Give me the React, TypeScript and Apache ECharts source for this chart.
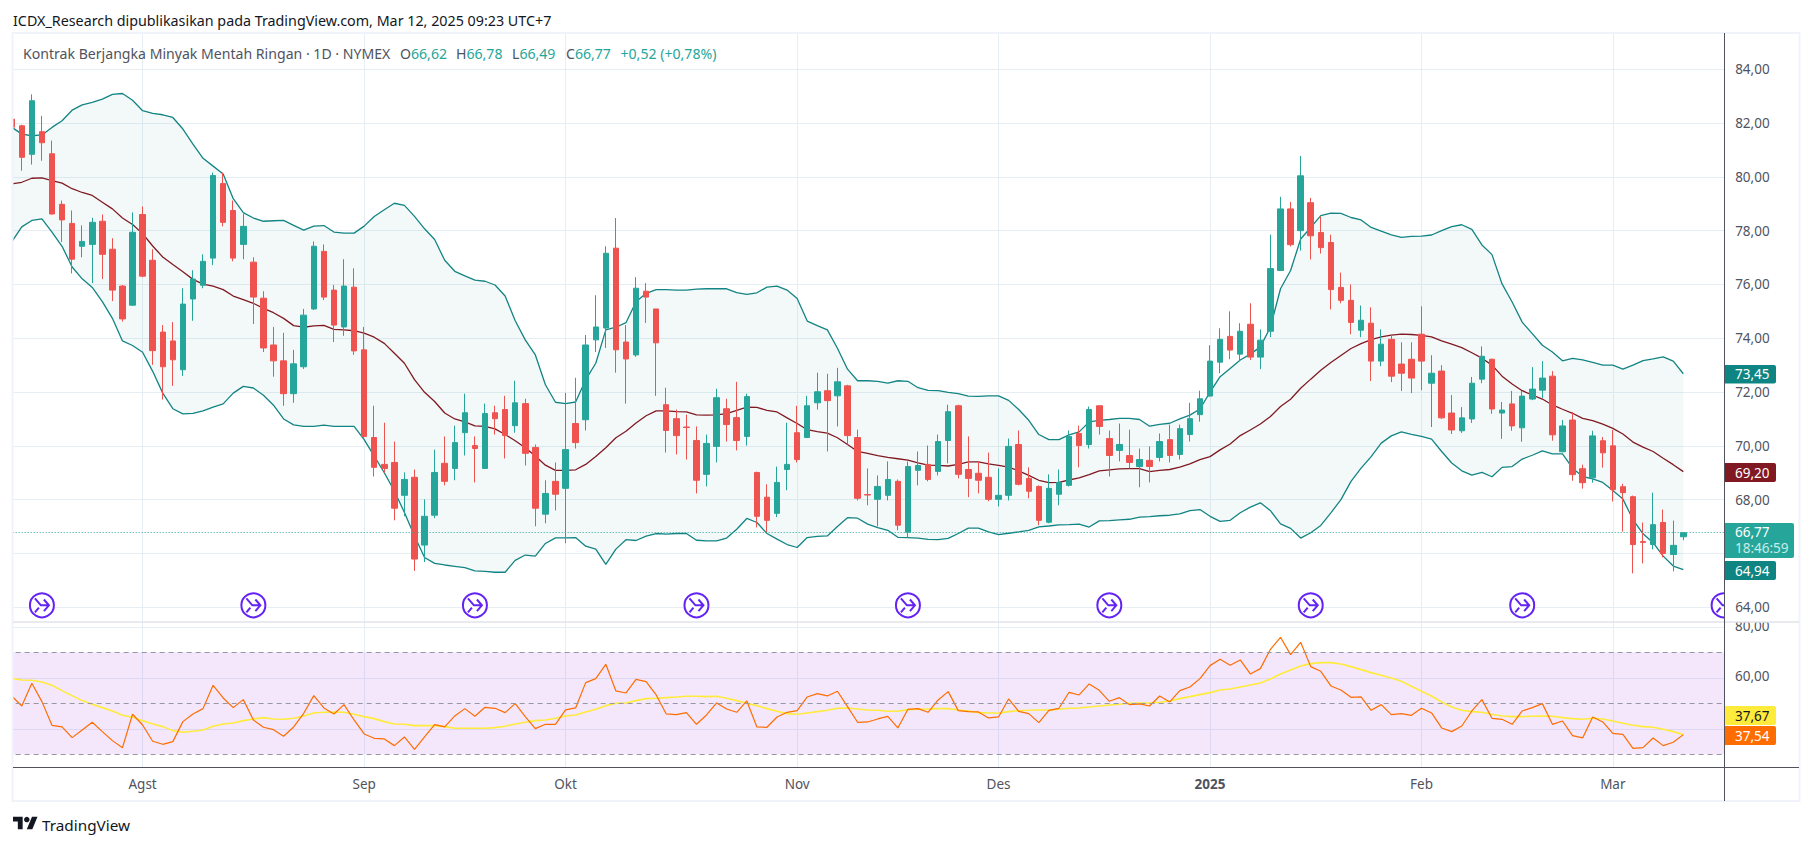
import React, { useEffect, useRef } from "react";
import * as echarts from "echarts";

// Bars, from the clipped first bar to the last one.
const opens = [82.15,81.90,80.84,81.68,80.86,78.98,78.27,77.42,77.49,78.35,77.31,75.94,75.23,78.6,76.9,74.23,73.9,72.83,75.46,75.97,76.98,79.75,78.75,77.49,76.83,75.49,73.75,73.16,71.94,72.94,75.09,77.23,75.79,74.42,75.9,73.57,70.31,69.31,69.38,68.16,68.83,66.31,67.42,69.35,69.16,70.49,70.01,69.16,71.23,71.35,70.75,71.57,69.94,67.46,68.68,68.42,70.83,70.97,73.94,74.38,77.35,73.86,73.38,75.75,75.09,71.53,71.01,70.7,70.2,68.94,69.98,71.38,71.05,70.35,69.01,68.09,67.49,69.12,70.49,70.31,71.6,72.05,71.86,72.23,70.31,68.19,68.01,68.16,68.68,66.79,69.09,69.31,69.05,70.2,71.49,69.12,68.98,68.83,68.01,68.16,70.05,68.79,68.49,67.16,68.2,68.53,70.46,70.05,71.49,70.27,69.83,69.64,69.23,69.46,69.57,70.23,69.68,70.42,71.16,71.85,73.11,74.07,73.41,74.52,73.3,74.26,76.52,78.81,78.0,79.04,77.93,77.56,75.89,75.41,74.3,74.56,73.15,73.96,73.04,73.22,74.15,72.33,72.78,71.22,70.56,71.0,72.48,73.22,71.22,71.56,70.67,71.74,72.07,72.59,69.78,70.96,69.15,68.81,70.19,70.0,68.48,68.11,66.44,66.33,67.15,65.96,66.62];
const closes = [81.85,80.73,82.83,81.27,78.62,78.40,76.94,77.60,78.31,77.12,75.79,74.72,77.94,76.31,73.54,72.94,73.2,75.27,76.2,76.86,80.05,78.31,76.98,78.16,75.53,73.64,73.16,71.94,73.05,74.86,77.42,75.53,74.49,75.94,73.53,70.35,69.2,69.16,67.68,68.75,65.79,67.38,69.01,68.68,70.12,71.23,69.9,71.2,71.01,70.38,71.6,69.72,67.68,68.23,68.2,69.86,70.12,73.75,74.42,77.16,73.57,73.23,75.86,75.53,73.83,70.57,70.38,70.68,68.72,70.09,71.79,70.79,70.2,71.83,67.38,67.23,68.64,69.31,69.49,71.49,72.01,71.68,72.38,70.38,68.05,68.17,68.49,68.75,67.05,69.23,69.27,68.75,70.16,71.27,68.94,68.79,68.72,68.01,68.16,69.98,68.57,68.31,67.23,68.42,68.64,70.35,70.01,71.35,70.72,69.64,70.05,69.38,69.49,69.23,70.16,69.64,70.64,71.01,71.75,73.15,73.96,73.56,74.26,73.3,73.93,76.59,78.81,77.48,80.04,77.81,77.37,75.81,75.41,74.59,74.67,73.15,73.78,72.59,72.7,72.52,73.15,72.7,71.04,70.59,71.04,72.33,73.33,71.37,71.33,70.74,71.85,72.11,72.52,70.41,70.74,68.93,68.63,70.37,69.74,68.37,68.26,66.33,66.41,67.07,66.0,66.3,66.77];
const lows = [81.7,80.23,80.46,80.6,78.6,77.58,76.41,77.01,76.05,76.2,75.38,74.62,75.2,76.27,73.01,71.72,72.23,72.6,74.65,75.86,76.72,78.16,76.86,76.94,74.53,73.49,72.57,71.49,71.6,72.86,75.05,75.42,73.86,74.09,73.38,70.3,68.86,69.0,67.23,67.38,65.35,65.68,67.31,68.53,68.72,69.64,68.64,69.14,70.42,69.53,70.49,69.27,67.01,67.12,67.6,66.38,69.9,70.57,73.49,73.64,72.72,71.57,73.31,74.57,71.86,69.75,69.68,69.49,68.23,68.49,69.38,70.16,69.83,70.01,66.97,66.79,67.35,68.35,69.38,70.29,71.35,69.79,70.72,70.05,67.97,67.79,67.01,67.97,66.86,66.59,68.53,68.68,68.9,69.35,68.79,68.09,68.23,67.94,67.75,67.97,68.53,68.05,67.05,67.12,67.79,68.49,69.2,69.9,70.42,68.86,69.42,69.16,68.46,68.64,69.42,69.38,69.49,70.16,70.9,71.83,72.70,73.22,73.15,73.19,72.85,74.04,76.5,77.41,77.26,76.93,77.15,75.07,75.3,74.15,74.04,72.41,72.96,72.37,72.04,71.96,72.07,70.7,71.0,70.44,70.48,70.85,72.33,71.19,70.26,70.56,70.15,71.7,71.78,70.19,69.76,68.7,68.41,68.63,69.19,67.93,66.81,65.26,65.63,66.15,65.85,65.33,66.49];
const highs = [82.3,81.94,83.07,82.27,81.35,79.12,78.75,78.2,78.48,78.6,77.72,75.98,78.68,78.9,77.31,74.49,74.6,75.86,76.53,77.12,80.16,80.16,79.12,78.63,77.01,75.75,74.42,74.2,73.57,75.09,77.6,77.49,75.98,76.94,76.6,74.42,71.49,70.86,70.16,69.01,69.12,68.01,69.86,70.35,70.75,71.94,70.35,71.57,71.49,71.86,72.42,71.75,70.05,68.72,69.38,71.97,72.53,74.12,75.6,77.42,78.47,74.49,76.27,76.05,75.09,72.16,71.35,71.16,70.72,70.42,72.12,71.75,72.38,71.94,69.04,68.57,69.23,70.86,71.49,71.86,72.72,72.68,72.9,72.27,70.6,69.16,68.9,69.42,68.75,69.42,69.79,70.01,70.42,71.53,71.53,70.35,69.42,69.75,69.16,70.27,70.57,69.2,68.53,68.94,69.12,70.57,70.75,71.46,71.49,70.57,70.83,70.6,69.9,69.98,70.46,70.79,70.79,71.6,72.05,73.74,74.37,75.0,74.56,75.3,74.33,77.85,79.26,79.07,80.78,79.22,78.52,77.85,76.44,76.0,75.22,75.15,74.33,74.11,73.85,73.85,75.19,73.37,73.0,71.89,71.44,72.56,73.7,73.24,71.63,72.04,72.04,72.93,73.15,72.78,70.96,71.26,69.3,70.56,70.33,70.59,68.59,68.15,67.15,68.26,67.63,67.22,66.78];

// Bollinger bands
const bbUpper = [81.85,81.59,81.53,81.56,81.84,82.09,82.48,82.68,82.77,82.89,83.07,83.10,82.85,82.46,82.36,82.31,82.21,81.78,81.22,80.69,80.40,80.11,79.19,78.67,78.47,78.35,78.37,78.38,78.20,78.02,78.17,78.19,77.95,77.91,77.91,78.17,78.53,78.78,79.02,78.94,78.53,78.07,77.67,76.90,76.49,76.32,76.16,76.12,75.98,75.57,74.65,73.94,73.38,72.27,71.62,71.57,71.63,72.46,73.07,74.31,74.41,74.58,75.36,75.67,75.81,75.81,75.79,75.79,75.83,75.84,75.84,75.84,75.70,75.63,75.69,75.90,75.94,75.79,75.48,74.64,74.47,74.31,73.63,72.85,72.42,72.42,72.40,72.33,72.42,72.40,72.16,72.06,72.05,71.99,71.94,71.85,71.84,71.86,71.86,71.69,71.35,70.95,70.42,70.23,70.23,70.41,70.52,70.89,70.95,70.98,71.02,71.02,70.98,70.73,70.80,70.84,71.0,71.14,71.37,72.0,72.57,72.88,73.19,73.41,73.68,74.42,75.84,76.52,77.69,78.12,78.56,78.65,78.64,78.49,78.40,78.12,77.98,77.84,77.75,77.79,77.80,77.84,78.0,78.15,78.22,78.05,77.47,77.11,76.02,75.35,74.60,74.17,73.74,73.49,73.16,73.25,73.20,73.10,73.0,73.0,72.85,73.0,73.17,73.23,73.31,73.15,72.68];
const bbBasis = [79.74,79.80,79.95,79.96,79.86,79.77,79.56,79.42,79.31,79.06,78.81,78.47,78.23,77.89,77.43,77.02,76.74,76.47,76.19,76.01,75.94,75.81,75.57,75.44,75.30,75.11,74.95,74.74,74.47,74.41,74.46,74.48,74.33,74.31,74.28,74.19,74.04,73.81,73.44,73.07,72.46,71.99,71.65,71.22,71.0,70.89,70.74,70.72,70.63,70.42,70.19,69.93,69.62,69.28,69.09,69.09,69.11,69.31,69.60,69.93,70.30,70.54,70.85,71.12,71.30,71.30,71.27,71.26,71.15,71.14,71.15,71.20,71.32,71.44,71.43,71.32,71.26,71.04,70.83,70.60,70.53,70.47,70.30,70.05,69.79,69.72,69.64,69.57,69.52,69.47,69.37,69.28,69.27,69.25,69.31,69.40,69.40,69.33,69.27,69.21,69.07,68.90,68.72,68.63,68.64,68.73,68.81,68.93,69.07,69.11,69.14,69.15,69.15,69.04,69.09,69.12,69.21,69.33,69.49,69.60,69.85,70.07,70.38,70.59,70.81,71.09,71.46,71.73,72.14,72.48,72.81,73.10,73.36,73.62,73.80,73.95,74.05,74.12,74.15,74.14,74.11,74.05,73.90,73.78,73.65,73.46,73.26,73.0,72.59,72.30,72.05,71.89,71.74,71.52,71.36,71.21,71.02,70.94,70.81,70.65,70.44,70.14,69.95,69.79,69.54,69.30,69.04];
const bbLower = [77.58,78.14,78.38,78.44,77.95,77.42,76.65,76.21,75.89,75.36,74.74,73.90,73.73,73.48,72.77,71.96,71.38,71.19,71.21,71.30,71.44,71.56,71.96,72.21,72.15,71.88,71.51,71.0,70.78,70.72,70.72,70.77,70.72,70.72,70.72,70.23,69.62,69.0,68.32,67.52,66.65,65.85,65.63,65.57,65.52,65.47,65.35,65.33,65.30,65.30,65.74,65.94,65.90,66.37,66.58,66.58,66.59,66.27,66.16,65.59,66.16,66.51,66.48,66.64,66.74,66.72,66.74,66.74,66.49,66.47,66.47,66.57,66.90,67.30,67.15,66.74,66.53,66.33,66.22,66.59,66.63,66.65,67.0,67.33,67.31,67.09,66.96,66.86,66.60,66.59,66.57,66.52,66.51,66.56,66.74,66.94,66.94,66.80,66.70,66.75,66.80,66.86,66.99,67.02,67.06,67.07,67.09,66.98,67.21,67.22,67.25,67.27,67.35,67.37,67.40,67.42,67.47,67.59,67.63,67.38,67.19,67.23,67.51,67.72,67.88,67.59,67.10,66.93,66.57,66.77,67.04,67.51,68.0,68.68,69.17,69.60,70.10,70.37,70.52,70.43,70.35,70.25,69.79,69.36,69.07,68.91,69.01,68.85,69.20,69.23,69.51,69.65,69.81,69.70,69.70,69.17,68.86,68.77,68.64,68.34,68.02,67.26,66.73,66.40,65.90,65.53,65.40];

// RSI and its moving average
const rsiValues = [52.88,48.95,57.84,50.65,41.37,40.72,36.54,39.54,42.55,38.89,35.36,32.61,45.69,41.50,35.10,33.92,34.97,42.81,45.82,47.91,57.06,52.09,48.30,51.44,43.46,40.59,39.67,37.06,40.72,46.08,53.01,48.17,45.82,49.48,43.46,37.97,36.27,36.01,33.40,36.80,31.96,36.80,41.63,40.72,45.03,47.91,44.90,48.43,48.04,46.34,49.87,44.77,40.07,41.76,41.76,47.39,48.17,58.10,59.67,65.29,54.84,54.05,59.41,58.50,53.27,45.82,45.56,46.34,41.76,45.42,50.13,47.78,46.47,50.92,40.72,40.59,44.64,46.47,47.12,52.48,53.79,52.88,54.71,48.69,42.55,42.68,43.86,44.90,40.33,47.65,47.91,46.47,51.31,54.58,47.12,46.73,46.60,44.25,44.64,51.70,46.86,45.95,42.42,47.25,48.04,54.31,53.27,57.58,55.10,50.78,52.22,49.48,49.74,48.95,52.88,50.52,54.97,56.41,59.67,64.77,67.25,64.90,66.99,61.50,63.59,71.18,75.88,69.08,73.92,64.38,62.55,56.80,55.23,52.35,52.48,47.25,49.48,45.56,45.95,45.29,48.04,46.21,40.33,38.89,41.11,46.99,51.44,44.12,43.73,41.76,46.99,48.30,49.87,41.76,43.07,37.32,36.41,44.64,42.68,38.24,37.84,32.35,32.61,36.41,33.40,34.71,37.71];
const rsiAverage = [59.80,59.15,59.02,58.37,57.06,54.97,53.01,51.05,49.61,48.30,46.99,45.29,44.51,43.20,41.90,40.85,39.28,38.63,39.02,39.54,40.98,41.90,42.29,43.20,43.86,44.38,43.86,43.73,44.12,45.03,46.21,46.47,46.60,46.47,45.69,44.77,43.99,42.81,41.90,41.76,41.24,41.24,41.24,40.85,40.20,40.20,40.20,40.20,40.46,40.98,41.90,42.55,43.20,43.46,44.12,45.03,45.42,46.60,47.65,49.08,50.0,50.13,51.05,51.83,51.96,52.22,52.48,52.75,52.75,52.61,52.75,51.96,51.05,50.0,49.08,47.91,46.86,45.95,45.69,46.21,46.73,47.25,48.04,48.17,47.78,47.39,47.25,46.86,46.86,47.52,47.65,47.78,47.91,47.91,47.39,46.99,46.34,46.21,46.21,46.73,47.12,47.25,47.39,47.39,47.65,48.04,48.17,48.56,48.95,49.35,49.61,50.0,50.13,50.13,50.39,50.92,51.83,52.61,53.40,54.18,55.23,55.62,56.41,57.19,57.97,59.54,61.50,63.07,64.64,65.56,65.95,65.95,65.42,64.38,63.20,62.03,60.98,59.93,58.63,56.67,54.71,52.88,50.52,48.56,47.25,46.73,46.47,45.69,45.03,44.77,44.77,44.90,45.03,44.90,44.38,43.99,43.73,44.12,43.86,43.07,42.16,41.37,40.85,40.59,39.80,38.89,37.71];

// Axes: which bar each month starts on, the empty bars on the right, tick values.
const monthStarts: Record<number, string> = { 13: "Agst", 35: "Sep", 55: "Okt", 78: "Nov", 98: "Des", 119: "2025", 140: "Feb", 159: "Mar" };
const slotCount = 171;
const priceGridTicks = [64, 66, 68, 70, 72, 74, 76, 78, 80, 82, 84];
const priceLabelTicks = [64, 68, 70, 72, 74, 76, 78, 80, 82, 84];
const rsiGridTicks = [40, 60, 80];
const rsiLevels = [70, 50, 30];
const eventBars = [3, 24, 46, 68, 89, 109, 129, 150, 170];
const eventLevel = 64.07;
const lastClose = 66.77;

const categories = Array.from({ length: slotCount }, (_, i) => String(i));
const FONT = "'Noto Sans', sans-serif";
const TEAL = "#26a69a";
const RED = "#ef5350";
const BAND = "#138484";
const GRID = "#e6eef3";
const TXT = "#50535e";
const isMonth = (i: number) => monthStarts[i] !== undefined;
const commaFmt = (v: number) => v.toFixed(2).replace(".", ",");

const LOGO = "M14 22H7V11H0V4h14v18zM28 22h-8l7.5-18h8L28 22z";
echarts.graphic.registerShape("tvlogo", (echarts.graphic as any).extendPath(LOGO, {}));

function tag(y: number, h: number, w: number, bg: string, txt: string, fg: string) {
  return [
    { type: "rect", z: 200, shape: { x: 1725, y, width: w, height: h, r: [0, 2, 2, 0] }, style: { fill: bg } },
    { type: "text", z: 201, x: 1735, y: y + h / 2, style: { text: txt, fill: fg, font: `13.5px ${FONT}`, verticalAlign: "middle" } },
  ];
}

export default function App() {
  const ref = useRef<HTMLDivElement>(null);
  useEffect(() => {
    const chart = echarts.init(ref.current!, undefined, { renderer: "svg" });
    const xAxisBase = {
      type: "category",
      data: categories,
      boundaryGap: true,
      axisLine: { show: false },
      axisTick: { show: false },
      splitLine: { show: true, alignWithLabel: true, interval: (i: number) => isMonth(i), lineStyle: { color: GRID, width: 1 } },
    };
    const gridLeft = 6.665;
    const gridRight = 1814 - (6.665 + 171 * 10.07);
    const labelStyle = { formatter: commaFmt, color: TXT, fontSize: 13.5, fontFamily: FONT, margin: 6.5, padding: [0, 0, 3, 0] };
    const option: any = {
      animation: false,
      backgroundColor: "#ffffff",
      textStyle: { fontFamily: FONT },
      grid: [
        { left: gridLeft, right: gridRight, top: 33, height: 589 },
        { left: gridLeft, right: gridRight, top: 622, height: 145.3 },
      ],
      xAxis: [
        { ...xAxisBase, gridIndex: 0, axisLabel: { show: false } },
        {
          ...xAxisBase,
          gridIndex: 1,
          axisLabel: {
            show: true,
            interval: (i: number) => isMonth(i),
            formatter: (v: string) => {
              const s = monthStarts[Number(v)] ?? "";
              return s === "2025" ? `{b|${s}}` : s;
            },
            color: TXT,
            fontSize: 13.5,
            fontFamily: FONT,
            margin: 10,
            rich: { b: { fontWeight: "bold", fontSize: 13.5, color: TXT, fontFamily: FONT } },
          },
        },
      ],
      yAxis: [
        {
          type: "value", gridIndex: 0, position: "right", min: 63.45, max: 85.35, scale: true,
          axisLine: { show: false },
          axisTick: { show: false, customValues: priceGridTicks },
          splitLine: { show: true, lineStyle: { color: GRID, width: 1 } },
          axisLabel: { show: false },
        },
        {
          type: "value", gridIndex: 1, position: "right", min: 24.9, max: 81.88, scale: true,
          axisLine: { show: false },
          axisTick: { show: false, customValues: rsiGridTicks },
          splitLine: { show: true, lineStyle: { color: GRID, width: 1 } },
          axisLabel: { show: false },
        },
        {
          type: "value", gridIndex: 0, position: "right", min: 63.45, max: 85.35, scale: true, z: 150,
          axisLine: { show: false },
          axisTick: { show: false, customValues: priceLabelTicks },
          splitLine: { show: false },
          axisLabel: { ...labelStyle, customValues: priceLabelTicks },
        },
      ],
      series: [
        { type: "line", name: "bandBase", data: bbLower, stack: "band", symbol: "none", lineStyle: { width: 0, opacity: 0 }, z: 1, silent: true },
        { type: "line", name: "bandFill", data: bbUpper.map((u, i) => +(u - bbLower[i]).toFixed(2)), stack: "band", symbol: "none", lineStyle: { width: 0, opacity: 0 }, areaStyle: { color: "rgba(18,132,132,0.05)", opacity: 1 }, z: 1, silent: true },
        { type: "line", name: "Upper", data: bbUpper, symbol: "none", lineStyle: { color: BAND, width: 1.3 }, z: 2 },
        { type: "line", name: "Lower", data: bbLower, symbol: "none", lineStyle: { color: BAND, width: 1.3 }, z: 2 },
        { type: "line", name: "Basis", data: bbBasis, symbol: "none", lineStyle: { color: "#801922", width: 1.3 }, z: 2 },
        {
          type: "candlestick", name: "CL1!", z: 3, barWidth: 6,
          data: opens.map((o, i) => [o, closes[i], lows[i], highs[i]]),
          itemStyle: { color: TEAL, color0: RED, borderColor: TEAL, borderColor0: RED, borderWidth: 1 },
          markLine: {
            silent: true, symbol: "none", animation: false, label: { show: false },
            lineStyle: { color: TEAL, type: [1, 2], width: 1 },
            data: [{ yAxis: lastClose }],
          },
        },
        {
          type: "scatter", name: "eventRing", z: 4, symbol: "circle", symbolSize: 24, silent: true, clip: false,
          data: eventBars.map((b) => [String(b), eventLevel]),
          itemStyle: { color: "#ffffff", borderColor: "#6423f5", borderWidth: 2, opacity: 1 },
        },
        {
          type: "scatter", name: "eventArrow", z: 5, symbolSize: 14, silent: true, clip: false,
          symbol: "path://M1 2 L7 8 L15 8 M10 3 L15 8 L10 13 M1 14 L5 10",
          data: eventBars.map((b) => [String(b), eventLevel]),
          itemStyle: { color: "none", borderColor: "#6423f5", borderWidth: 2, opacity: 1 },
        },
        {
          type: "line", name: "RSI", xAxisIndex: 1, yAxisIndex: 1, data: rsiValues, symbol: "none", z: 3,
          lineStyle: { color: "#ff6d00", width: 1.2 },
          markArea: { silent: true, itemStyle: { color: "rgba(156,39,230,0.11)" }, data: [[{ yAxis: 30 }, { yAxis: 70 }]] },
          markLine: {
            silent: true, symbol: "none", animation: false, label: { show: false },
            lineStyle: { color: "#9598a1", type: [5, 4], width: 1 },
            data: rsiLevels.map((v) => ({ yAxis: v })),
          },
        },
        { type: "line", name: "RSI MA", xAxisIndex: 1, yAxisIndex: 1, data: rsiAverage, symbol: "none", z: 2, lineStyle: { color: "#ffeb3b", width: 1.6 } },
      ],
      graphic: [
        // masks beyond the frame on both sides
        { type: "rect", z: 100, shape: { x: 0, y: 30, width: 12.5, height: 775 }, style: { fill: "#ffffff" } },
        { type: "rect", z: 100, shape: { x: 1725, y: 30, width: 13, height: 772 }, style: { fill: "#ffffff" } },
        // RSI axis labels; the top of the pane cuts off the upper part of the highest one
        { type: "text", z: 101, x: 1735, y: 625.5, style: { text: "80,00", fill: TXT, font: `13.5px ${FONT}`, verticalAlign: "middle" } },
        { type: "text", z: 101, x: 1735, y: 676, style: { text: "60,00", fill: TXT, font: `13.5px ${FONT}`, verticalAlign: "middle" } },
        { type: "rect", z: 102, shape: { x: 1725, y: 613, width: 74, height: 9 }, style: { fill: "#ffffff" } },
        // frame
        { type: "rect", z: 110, shape: { x: 12.5, y: 33, width: 1787, height: 768 }, style: { fill: "none", stroke: "#f0f3fa", lineWidth: 2 } },
        // pane separator and axes
        { type: "line", z: 111, shape: { x1: 13, y1: 622, x2: 1799, y2: 622 }, style: { stroke: "#e0e3eb", lineWidth: 1.5 } },
        { type: "line", z: 112, shape: { x1: 13, y1: 767.5, x2: 1799, y2: 767.5 }, style: { stroke: "#50535e", lineWidth: 1 } },
        { type: "line", z: 112, shape: { x1: 1724.5, y1: 33, x2: 1724.5, y2: 801 }, style: { stroke: "#50535e", lineWidth: 1 } },
        // header
        { type: "text", z: 120, x: 13, y: 20, style: { text: "ICDX_Research dipublikasikan pada TradingView.com, Mar 12, 2025 09:23 UTC+7", fill: "#131722", font: `14.3px ${FONT}`, verticalAlign: "middle" } },
        { type: "text", z: 120, x: 23, y: 53, style: { text: "Kontrak Berjangka Minyak Mentah Ringan · 1D · NYMEX", fill: "#50535e", font: `14.1px ${FONT}`, verticalAlign: "middle" } },
        ...[["O", "66,62", 400], ["H", "66,78", 456], ["L", "66,49", 512], ["C", "66,77", 566]].map(([k, v, x]) => ({
          type: "text", z: 120, x, y: 53,
          style: { text: `{k|${k}}{v|${v}}`, verticalAlign: "middle", font: `14.1px ${FONT}`, rich: { k: { fill: "#50535e", font: `14.1px ${FONT}` }, v: { fill: TEAL, font: `14.1px ${FONT}` } } },
        })),
        { type: "text", z: 120, x: 620.5, y: 53, style: { text: "+0,52 (+0,78%)", fill: TEAL, font: `14.1px ${FONT}`, verticalAlign: "middle" } },
        // price tags on the axes
        ...tag(365, 18.5, 51, "#0e8582", "73,45", "#ffffff"),
        ...tag(463, 19, 51, "#801922", "69,20", "#ffffff"),
        { type: "rect", z: 200, shape: { x: 1725, y: 523, width: 69, height: 35, r: [0, 2, 2, 0] }, style: { fill: TEAL } },
        { type: "text", z: 201, x: 1735, y: 532, style: { text: "66,77", fill: "#ffffff", font: `13.5px ${FONT}`, verticalAlign: "middle" } },
        { type: "text", z: 201, x: 1735, y: 548, style: { text: "18:46:59", fill: "#c8ebe7", font: `13.5px ${FONT}`, verticalAlign: "middle" } },
        ...tag(561, 19, 51, "#0e8582", "64,94", "#ffffff"),
        ...tag(706, 19, 51, "#ffeb3b", "37,67", "#131722"),
        ...tag(726, 19, 51, "#ff6d00", "37,54", "#ffffff"),
        // footer
        { type: "tvlogo", z: 120, x: 13, y: 814, scaleX: 0.69, scaleY: 0.69, style: { fill: "#131722" } },
        { type: "circle", z: 120, shape: { cx: 13 + 20 * 0.69, cy: 814 + 8 * 0.69, r: 4 * 0.69 }, style: { fill: "#131722" } },
        { type: "text", z: 120, x: 42, y: 825, style: { text: "TradingView", fill: "#131722", font: `15.3px ${FONT}`, verticalAlign: "middle" } },
      ],
    };
    chart.setOption(option);
    return () => chart.dispose();
  }, []);
  return <div ref={ref} style={{ position: "fixed", left: 0, top: 0, width: 1814, height: 846, background: "#fff" }} />;
}
